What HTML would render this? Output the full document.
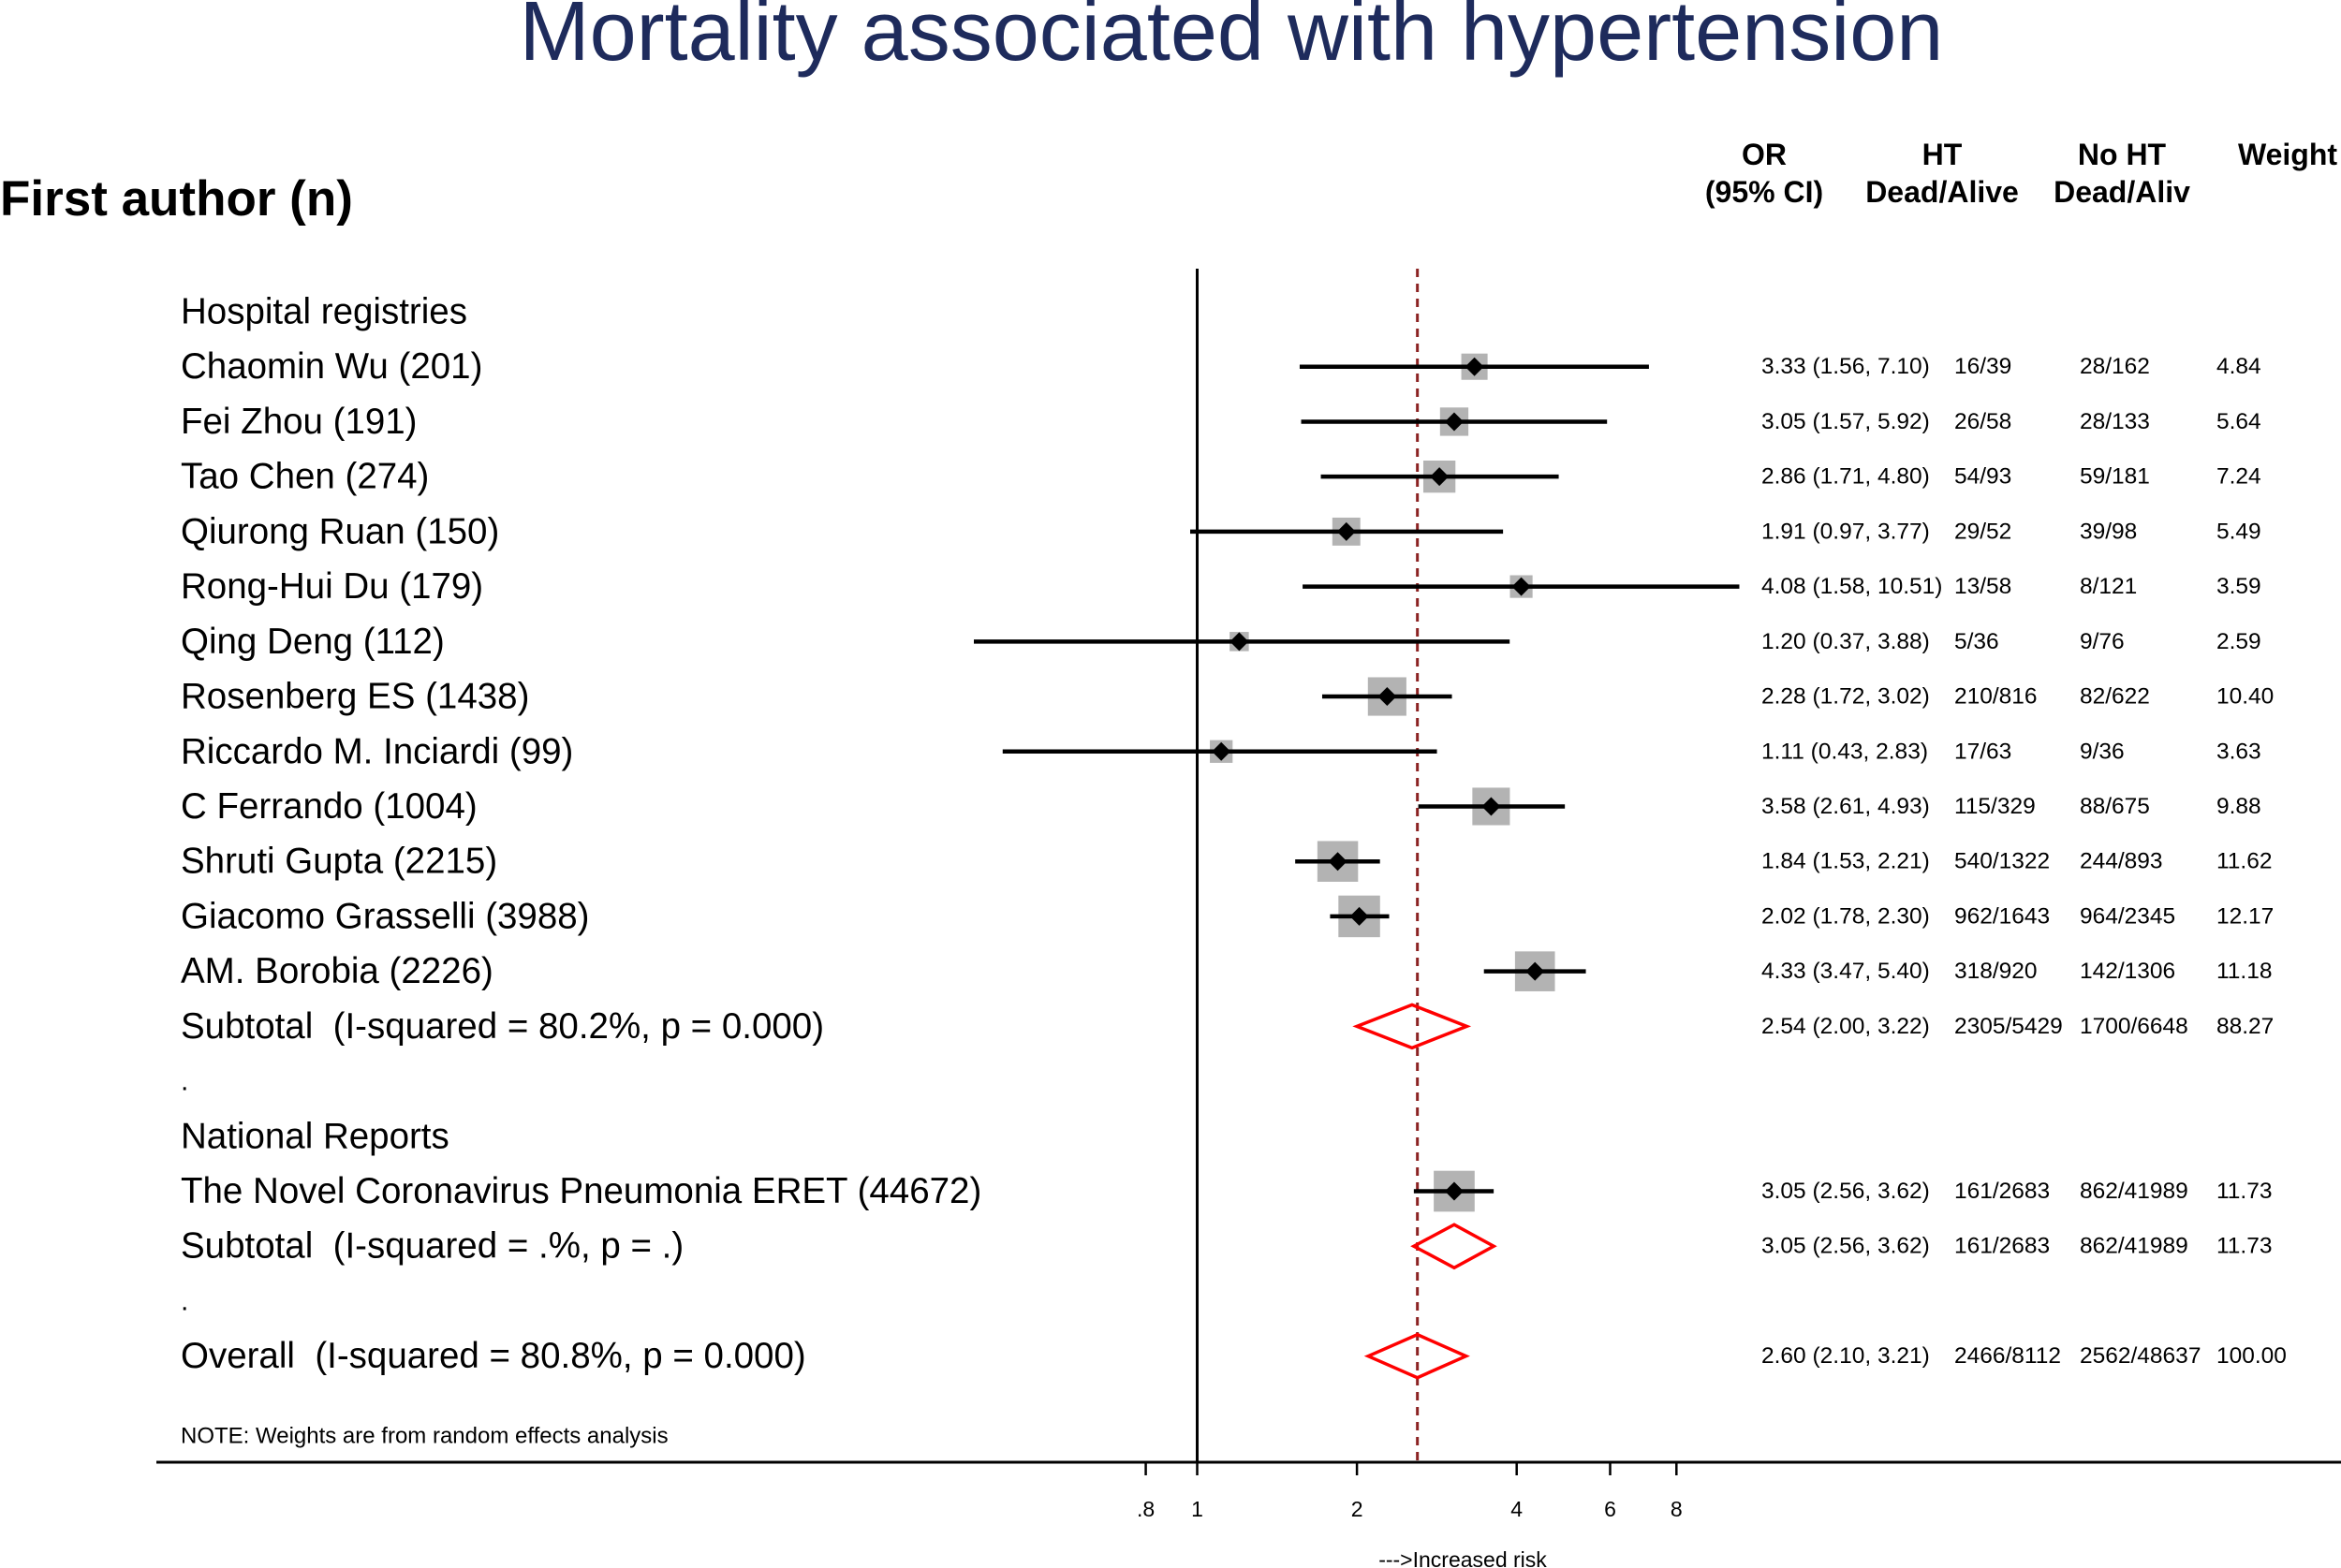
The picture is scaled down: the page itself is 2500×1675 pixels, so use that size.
<!DOCTYPE html>
<html><head><meta charset="utf-8"><style>
html,body{margin:0;padding:0;background:#fff;}
svg{display:block;font-family:"Liberation Sans",sans-serif;}
</style></head><body>
<svg id="chart" width="2500" height="1675" viewBox="0 0 2500 1675" xmlns="http://www.w3.org/2000/svg">
<text x="1315" y="64" text-anchor="middle" font-size="90" fill="#1e2b5c">Mortality associated with hypertension</text>
<text x="0" y="230" font-size="53" font-weight="bold" fill="#000">First author (n)</text>
<g font-size="32" font-weight="bold" text-anchor="middle">
<text x="1884" y="176">OR</text>
<text x="1884" y="216">(95% CI)</text>
<text x="2074" y="176">HT</text>
<text x="2074" y="216">Dead/Alive</text>
<text x="2266" y="176">No HT</text>
<text x="2266" y="216">Dead/Aliv</text>
<text x="2443" y="176">Weight</text>
</g>
<g id="plot"></g>
</svg>
<script>
const names = ["Chaomin Wu (201)","Fei Zhou (191)","Tao Chen (274)","Qiurong Ruan (150)","Rong-Hui Du (179)","Qing Deng (112)","Rosenberg ES (1438)","Riccardo M. Inciardi (99)","C Ferrando (1004)","Shruti Gupta (2215)","Giacomo Grasselli (3988)","AM. Borobia (2226)"];
const orVals = [3.33,3.05,2.86,1.91,4.08,1.20,2.28,1.11,3.58,1.84,2.02,4.33];
const loVals = [1.56,1.57,1.71,0.97,1.58,0.37,1.72,0.43,2.61,1.53,1.78,3.47];
const hiVals = [7.10,5.92,4.80,3.77,10.51,3.88,3.02,2.83,4.93,2.21,2.30,5.40];
const htVals = ["16/39","26/58","54/93","29/52","13/58","5/36","210/816","17/63","115/329","540/1322","962/1643","318/920"];
const nohtVals = ["28/162","28/133","59/181","39/98","8/121","9/76","82/622","9/36","88/675","244/893","964/2345","142/1306"];
const weights = [4.84,5.64,7.24,5.49,3.59,2.59,10.40,3.63,9.88,11.62,12.17,11.18];
const natNames = ["The Novel Coronavirus Pneumonia ERET (44672)"];
const natOr = [3.05], natLo = [2.56], natHi = [3.62], natHt = ["161/2683"], natNoht = ["862/41989"], natW = [11.73];
const sub1 = [2.54,2.00,3.22], sub1Txt = ["2305/5429","1700/6648","88.27"];
const sub2 = [3.05,2.56,3.62], sub2Txt = ["161/2683","862/41989","11.73"];
const overall = [2.60,2.10,3.21], overallTxt = ["2466/8112","2562/48637","100.00"];
const tickVals = [0.8,1,2,4,6,8];
const tickLabels = [".8","1","2","4","6","8"];

const NS="http://www.w3.org/2000/svg";
const g=document.getElementById('plot');
const xS=v=>1278.5+170.6*Math.log2(v);
const rowY=i=>333+i*58.72;
const clipL=1040, clipR=1860;
const LBL=38.5, COL=24.5;
function mk(tag,attrs,parent){const e=document.createElementNS(NS,tag);for(const k in attrs)e.setAttribute(k,attrs[k]);(parent||g).appendChild(e);return e;}
function txt(x,y,s,size,anchor){const t=mk('text',{x:x,y:y,'font-size':size,'text-anchor':anchor||'start','dominant-baseline':'central',fill:'#000'});t.setAttribute('xml:space','preserve');t.style.whiteSpace='pre';t.textContent=s;return t;}
const f2=v=>v.toFixed(2);
function ciStr(o,l,h){return f2(o)+" ("+f2(l)+", "+f2(h)+")";}
function rightCols(i,ci,ht,no,w){
 let t=txt(1881,rowY(i),ci,COL);
 t=txt(2087,rowY(i),ht,COL);
 t=txt(2221,rowY(i),no,COL);
 t=txt(2367,rowY(i),w,COL);
}
function study(i,name,o,l,h,w,ht,no){
 const y=rowY(i);
 let t=txt(193,y,name,LBL);
 const s=12.75*Math.sqrt(w);
 let r=mk('rect',{x:xS(o)-s/2,y:y-s/2,width:s,height:s,fill:'#b3b3b3'});
 
 let ln=mk('line',{x1:Math.max(clipL,xS(l)),x2:Math.min(clipR,xS(h)),y1:y,y2:y,stroke:'#000','stroke-width':4.5});
 
 const d=10,cx=xS(o);
 let p=mk('polygon',{points:`${cx-d},${y} ${cx},${y-d} ${cx+d},${y} ${cx},${y+d}`,fill:'#000'});
 
 rightCols(i,ciStr(o,l,h),ht,no,f2(w));
}
function diamond(i,label,v,tx){
 const y=rowY(i);
 let t=txt(193,y,label,LBL);
 const hh=23;
 let p=mk('polygon',{points:`${xS(v[1])},${y} ${xS(v[0])},${y-hh} ${xS(v[2])},${y} ${xS(v[0])},${y+hh}`,fill:'none',stroke:'#f00','stroke-width':3.5});
 
 rightCols(i,ciStr(v[0],v[1],v[2]),tx[0],tx[1],tx[2]);
}
let l1=mk('line',{x1:1278.5,x2:1278.5,y1:287,y2:1562,stroke:'#000','stroke-width':3});

let l2=mk('line',{x1:xS(overall[0]),x2:xS(overall[0]),y1:287,y2:1562,stroke:'#8b2323','stroke-width':3,'stroke-dasharray':'9,7'});


let h1=txt(193,rowY(0),"Hospital registries",LBL);
names.forEach((n,k)=>study(k+1,n,orVals[k],loVals[k],hiVals[k],weights[k],htVals[k],nohtVals[k]));
diamond(13,"Subtotal\u00a0\u00a0(I-squared = 80.2%, p = 0.000)",sub1,sub1Txt);
let dt=txt(193,rowY(14),".",30);
let h2=txt(193,rowY(15),"National Reports",LBL);
natNames.forEach((n,k)=>study(16+k,n,natOr[k],natLo[k],natHi[k],natW[k],natHt[k],natNoht[k]));
diamond(17,"Subtotal\u00a0\u00a0(I-squared = .%, p = .)",sub2,sub2Txt);
dt=txt(193,rowY(18),".",30);
diamond(19,"Overall\u00a0\u00a0(I-squared = 80.8%, p = 0.000)",overall,overallTxt);
let nt=txt(193,1534,"NOTE: Weights are from random effects analysis",24);
let ax=mk('line',{x1:167,x2:2500,y1:1562,y2:1562,stroke:'#000','stroke-width':3});

tickVals.forEach((v,k)=>{
 let tk=mk('line',{x1:xS(v),x2:xS(v),y1:1562,y2:1576,stroke:'#000','stroke-width':2.5});
 
 let tl=txt(xS(v),1612,tickLabels[k],23,'middle');
});
let at=txt(1562,1666,"--->Increased risk",23,'middle');
</script>
</body></html>
